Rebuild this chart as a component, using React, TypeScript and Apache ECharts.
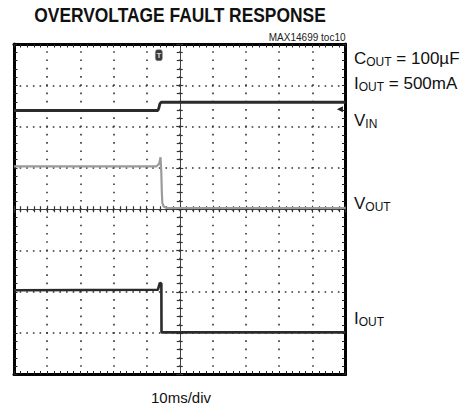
import React, { useEffect, useRef } from 'react';
import * as echarts from 'echarts';

const FONT = '"Liberation Sans", Arial, Helvetica, sans-serif';

// Horizontal: time in ms (10 ms/div, screen centre = 0). Vertical: divisions from screen centre.
const vinTime = [-50, -6.6, -6.3, -6.0, -5.6, 50];
const vinLevel = [2.39, 2.39, 2.45, 2.55, 2.59, 2.59];

const voutTime = [-50, -7.0, -6.2, -5.8, -5.57, -5.4, -5.25, -4.8, -3.9, 50];
const voutLevel = [1.04, 1.04, 1.1, 1.26, 0.9, 0.4, 0.15, 0.06, 0.03, 0.03];

const ioutTime = [-50, -6.6, -6.0, -5.55, -5.5, 50];
const ioutLevel = [-1.96, -1.95, -1.78, -1.8, -2.98, -2.98];

const triggerTime = -6.3;
const triggerMarkLevel = 3.73;
const triggerLevelTime = 48.3;
const triggerLevel = 2.42;

const xMin = -50, xMax = 50, xStep = 10;
const yMin = -4, yMax = 4, yStep = 1;

const pairs = (xs: number[], ys: number[]) => xs.map((x, i) => [x, ys[i]]);

function frameX(position: 'top' | 'bottom', withGrid: boolean) {
  return {
    type: 'value', min: xMin, max: xMax, interval: xStep, position,
    axisLine: { show: true, onZero: false, lineStyle: { color: '#000', width: 3 } },
    axisTick: { show: true, inside: true, length: 3.5, lineStyle: { color: '#222', width: 1 } },
    minorTick: { show: true, splitNumber: 5, length: 3.5, lineStyle: { color: '#222', width: 1 } },
    axisLabel: { show: false },
    splitLine: withGrid
      ? { show: true, lineStyle: { color: '#333', width: 1.6, type: [1.6, 6.66], dashOffset: 0.8 } }
      : { show: false },
  };
}
function frameY(position: 'left' | 'right', withGrid: boolean) {
  return {
    type: 'value', min: yMin, max: yMax, interval: yStep, position,
    axisLine: { show: true, onZero: false, lineStyle: { color: '#000', width: 3 } },
    axisTick: { show: true, inside: true, length: 3.5, lineStyle: { color: '#222', width: 1 } },
    minorTick: { show: true, splitNumber: 5, length: 3.5, lineStyle: { color: '#222', width: 1 } },
    axisLabel: { show: false },
    splitLine: withGrid
      ? { show: true, lineStyle: { color: '#333', width: 1.6, type: [1.6, 5.03], dashOffset: 0.8 } }
      : { show: false },
  };
}
function centreX(inside: boolean) {
  return {
    type: 'value', min: xMin, max: xMax, interval: xStep, position: 'bottom',
    axisLine: { show: true, onZero: true, onZeroAxisIndex: 0, lineStyle: { color: '#444', width: 1 } },
    axisTick: { show: true, inside, length: 3.5, lineStyle: { color: '#333', width: 1.2 } },
    minorTick: { show: true, splitNumber: 5, length: 3, lineStyle: { color: '#333', width: 1.2 } },
    axisLabel: { show: false },
    splitLine: { show: false },
  };
}
function centreY(inside: boolean) {
  return {
    type: 'value', min: yMin, max: yMax, interval: yStep, position: 'left',
    axisLine: { show: true, onZero: true, onZeroAxisIndex: 0, lineStyle: { color: '#444', width: 1 } },
    axisTick: { show: true, inside, length: 3.5, lineStyle: { color: '#333', width: 1.2 } },
    minorTick: { show: true, splitNumber: 5, length: 3, lineStyle: { color: '#333', width: 1.2 } },
    axisLabel: { show: false },
    splitLine: { show: false },
  };
}

const labelRich = {
  m: { fontSize: 17, fontFamily: FONT, color: '#111', lineHeight: 20 },
  s: { fontSize: 12, fontFamily: FONT, color: '#111', lineHeight: 12, verticalAlign: 'bottom' },
};

function sideLabel(text: string, y: number) {
  return {
    type: 'text', x: 354, y,
    style: {
      text, rich: labelRich, fill: '#111', font: `17px ${FONT}`,
      align: 'left', verticalAlign: 'middle', textAlign: 'left', textVerticalAlign: 'middle',
    },
  };
}

export default function App() {
  const ref = useRef<HTMLDivElement>(null);
  useEffect(() => {
    if (!ref.current) return;
    const chart = echarts.init(ref.current, undefined, { renderer: 'svg' });
    chart.setOption({
      animation: false,
      backgroundColor: '#fff',
      grid: { left: 14, top: 44, width: 331.5, height: 330.5, containLabel: false },
      xAxis: [frameX('bottom', true), frameX('top', false), centreX(true), centreX(false)],
      yAxis: [frameY('left', true), frameY('right', false), centreY(true), centreY(false)],
      series: [
        {
          name: 'VOUT', type: 'line', xAxisIndex: 0, yAxisIndex: 0, symbol: 'none',
          data: pairs(voutTime, voutLevel),
          lineStyle: { color: '#9b9b9b', width: 2.2 }, z: 3,
        },
        {
          name: 'VIN', type: 'line', xAxisIndex: 0, yAxisIndex: 0, symbol: 'none',
          data: pairs(vinTime, vinLevel),
          lineStyle: { color: '#2b2b2b', width: 2.8 }, z: 4,
          markPoint: {
            silent: true, animation: false,
            data: [
              {
                coord: [triggerTime, triggerMarkLevel], symbol: 'roundRect', symbolSize: [7, 11],
                itemStyle: { color: '#3a3a3a', borderColor: '#888', borderWidth: 0.5 },
                label: { show: true, formatter: 'T', color: '#ddd', fontSize: 8, fontWeight: 'bold', fontFamily: FONT },
              },
              {
                coord: [triggerLevelTime, triggerLevel], symbol: 'triangle', symbolRotate: 90, symbolSize: [6, 6],
                itemStyle: { color: '#222' }, label: { show: false },
              },
            ],
          },
        },
        {
          name: 'IOUT', type: 'line', xAxisIndex: 0, yAxisIndex: 0, symbol: 'none',
          data: pairs(ioutTime, ioutLevel),
          lineStyle: { color: '#2b2b2b', width: 2.6 }, z: 4,
        },
      ],
      graphic: [
        {
          type: 'text', x: 180, y: 15, scaleX: 0.87,
          style: {
            text: 'OVERVOLTAGE FAULT RESPONSE', font: `bold 20px ${FONT}`, fill: '#111',
            align: 'center', verticalAlign: 'middle', textAlign: 'center', textVerticalAlign: 'middle',
          },
        },
        {
          type: 'text', x: 345.5, y: 37.5,
          style: {
            text: 'MAX14699 toc10', font: `10px ${FONT}`, fill: '#222',
            align: 'right', verticalAlign: 'middle', textAlign: 'right', textVerticalAlign: 'middle',
          },
        },
        sideLabel('{m|C}{s|OUT}{m| = 100µF}', 58),
        sideLabel('{m|I}{s|OUT}{m| = 500mA}', 83),
        sideLabel('{m|V}{s|IN}', 120),
        sideLabel('{m|V}{s|OUT}', 203),
        sideLabel('{m|I}{s|OUT}', 318),
        {
          type: 'text', x: 181, y: 397,
          style: {
            text: '10ms/div', font: `15px ${FONT}`, fill: '#111',
            align: 'center', verticalAlign: 'middle', textAlign: 'center', textVerticalAlign: 'middle',
          },
        },
      ],
    });
    return () => chart.dispose();
  }, []);
  return <div ref={ref} style={{ position: 'fixed', left: 0, top: 0, width: 470, height: 412, background: '#fff' }} />;
}
